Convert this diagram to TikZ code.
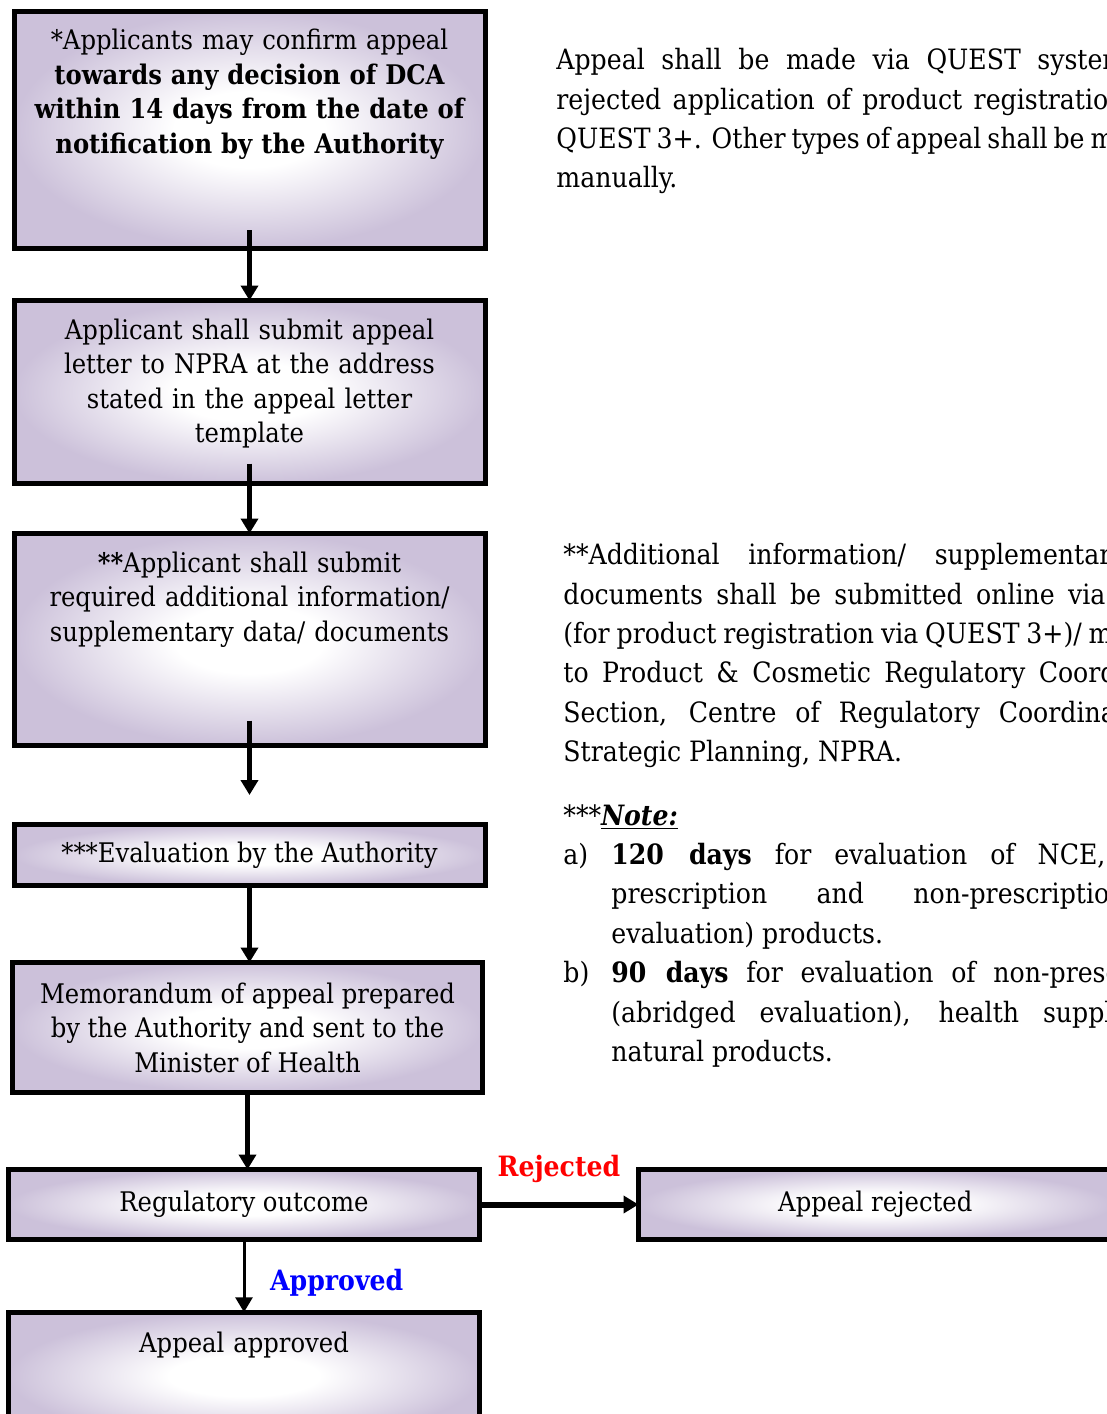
\documentclass[tikz,border=0pt]{standalone}
\usepackage{fontspec}
\setmainfont{DejaVu Serif Condensed}
\usetikzlibrary{positioning, arrows.meta}
\definecolor{lavender}{RGB}{204,193,218}
\definecolor{rejred}{RGB}{255,0,0}
\definecolor{appblue}{RGB}{0,0,255}
\pgfdeclareradialshading{boxglow}{\pgfpoint{0bp}{0bp}}{color(0bp)=(white); color(8bp)=(white); color(25bp)=(lavender); color(50bp)=(lavender)}
\def\boxwidth{235.5pt}
\tikzstyle{stage}=[draw, line width=2.5pt, outer sep=0pt, inner sep=0pt, shade, shading=boxglow, minimum width=\boxwidth, align=center, font=\fontsize{13.5}{17.25}\selectfont]
\tikzstyle{stage text}=[inner sep=0pt, align=center, text width=228pt, font=\fontsize{13.5}{17.25}\selectfont]
\tikzstyle{flow}=[line width=2.5pt, -{Triangle[length=7.5pt,width=8.5pt]}]
\tikzstyle{side note}=[anchor=north west, inner sep=0pt, align=justify, font=\fontsize{14}{19.7}\selectfont]

\begin{document}
\begin{tikzpicture}[x=0.5pt, y=-0.5pt]
	\useasboundingbox (0,0) rectangle (1107,1414);
	\clip (0,0) rectangle (1107,1414);
	% stages
	\node[stage, minimum height=118.5pt] (b1) at (249.5,129.5) {};
	\node[stage, minimum height=91.5pt] (b2) at (249.5,392) {};
	\node[stage, minimum height=106pt] (b3) at (249.5,639.5) {};
	\node[stage, minimum height=30.5pt] (b4) at (249.5,855) {***Evaluation by the Authority};
	\node[stage, minimum height=65pt, minimum width=235pt] (b5) at (247.5,1027.5) {Memorandum of appeal prepared\\ by the Authority and sent to the\\ Minister of Health};
	\node[stage, minimum height=35pt] (b6) at (244,1204.5) {Regulatory outcome};
	\node[stage, minimum height=35pt, minimum width=236.75pt] (b7) at (875.25,1204.5) {Appeal rejected};
	\node[stage, minimum height=63.75pt] (b8) at (244,1376) {};
	\node[stage text, below=9pt of b1.north] (t1) {*Applicants may confirm appeal\\ {\bfseries towards any decision of DCA\\ within 14 days from the date of\\ notification by the Authority}};
	\node[stage text, below=9pt of b2.north] (t2) {Applicant shall submit appeal\\ letter to NPRA at the address\\ stated in the appeal letter\\ template};
	\node[stage text, below=9pt of b3.north] (t3) {\textbf{**}Applicant shall submit\\ required additional information/\\ supplementary data/ documents};
	\node[stage text, below=9.5pt of b8.north] (t8) {Appeal approved};
	\coordinate (gap) at (249.5,795);
	% connectors
	\draw[flow] ([yshift=9pt]b1.south) -- (b2.north);
	\draw[flow] ([yshift=10pt]b2.south) -- (b3.north);
	\draw[flow] ([yshift=12.5pt]b3.south) -- (gap);
	\draw[flow] (b4.south) -- (b4.south |- b5.north);
	\draw[flow] (b5.south) -- (b5.south |- b6.north);
	\draw[flow, line width=3pt] (b6.east) -- node[above=6pt, text=rejred, font=\fontsize{14}{17}\selectfont\bfseries] (rej) {Rejected} (b7.west);
	\draw[flow, line width=1.5pt] (b6.south) -- node[right=9pt, yshift=-3.5pt, text=appblue, font=\fontsize{14}{17}\selectfont\bfseries] (app) {Approved} (b8.north);
	% notes on the right
	\node[side note, text width=302pt] (n1) at (556,48) {Appeal shall be made via QUEST system\hspace*{17pt}\linebreak rejected application of product registration\hspace*{18pt}\linebreak QUEST 3+. Other types of appeal shall be made\linebreak manually.};
	\node[side note, text width=321pt] (n2) at (563,543) {**Additional information/ supplementary\hspace*{40pt}\linebreak documents shall be submitted online via\hspace*{50pt}\linebreak (for product registration via QUEST 3+)/ manually\linebreak to Product \& Cosmetic Regulatory Coordination\linebreak Section, Centre of Regulatory Coordination\hspace*{20pt}\linebreak Strategic Planning, NPRA.};
	\node[side note, text width=321pt] (n3) at (563,804) {\noindent\textit{***}\textbf{\textit{\underline{Note:}}}\par
		\hangindent=24pt\hangafter=1\noindent\makebox[24pt][l]{a)}\textbf{120 days} for evaluation of NCE,\hspace*{50pt}\linebreak prescription and non-prescription\hspace*{40pt}\linebreak evaluation) products.\par
		\hangindent=24pt\hangafter=1\noindent\makebox[24pt][l]{b)}\textbf{90 days} for evaluation of non-prescription\linebreak (abridged evaluation), health supplements\linebreak natural products.\par};
\end{tikzpicture}
\end{document}
